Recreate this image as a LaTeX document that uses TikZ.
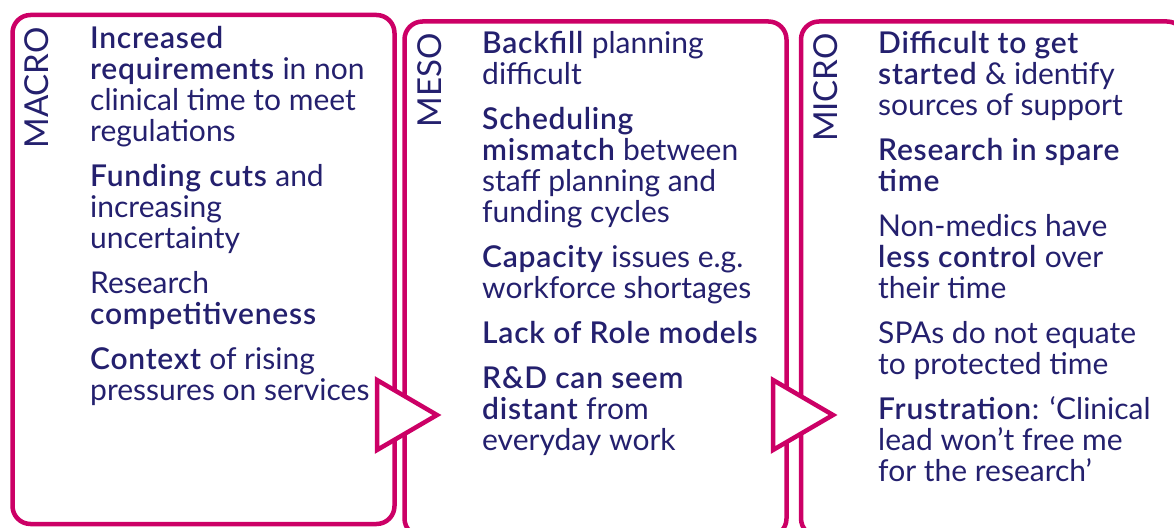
\documentclass[tikz,border=0pt]{standalone}
\usepackage{fontspec}
\setmainfont{Lato}[BoldFont={Lato Semibold}, BoldFeatures={LetterSpace=2.5}]
\usetikzlibrary{shapes,positioning,calc}
\definecolor{rim}{RGB}{204,0,102}
\definecolor{ink}{RGB}{36,32,110}
\tikzset{
  panel/.style   = {draw=rim, line width=4.5pt, rectangle, rounded corners=18pt,
                    inner sep=0pt, outer sep=0pt, anchor=north west},
  level/.style   = {rotate=90, anchor=north east, inner sep=0pt, text=ink,
                    font=\fontsize{33}{36}\selectfont},
  items/.style   = {anchor=north west, inner sep=0pt, align=left, text=ink,
                    font=\fontsize{30}{31}\selectfont},
  pointer/.style = {draw=rim, fill=white, line width=4.5pt, isosceles triangle,
                    isosceles triangle stretches, minimum width=70pt, minimum height=60pt,
                    inner sep=0pt, outer sep=0pt, anchor=apex}
}

\begin{document}
\begin{tikzpicture}[x=1pt, y=-1pt]
    \useasboundingbox (0,0) rectangle (1174,527);
    \clip (0,0) rectangle (1174,527);

    \node[panel, minimum width=382pt, minimum height=509pt] (macro box) at (12.5,15) {};
    \node[panel, minimum width=382pt, minimum height=515pt] (meso box)  at (404.5,21.5) {};
    \node[panel, minimum width=384pt, minimum height=515pt] (micro box) at (801,21.5) {};

    \node[level] (macro label) at (24,27) {MACRO};
    \node[level] (meso label)  at (417,33) {MESO};
    \node[level] (micro label) at (813,33) {MICRO};

    \node[items] (macro text) at (90,26.5) {\textbf{Increased}\\
      \textbf{requirements} in non\\clinical time to meet\\regulations\\[14pt]
      \textbf{Funding cuts} and\\increasing\\uncertainty\\[14pt]
      Research\\\textbf{competitiveness}\\[14pt]
      \textbf{Context} of rising\\pressures on services};

    \node[items] (meso text) at (482,31.5) {\textbf{Backfill} planning\\difficult\\[14pt]
      \textbf{Scheduling}\\\textbf{mismatch} between\\staff planning and\\funding cycles\\[14pt]
      \textbf{Capacity} issues e.g.\\workforce shortages\\[14pt]
      \textbf{Lack of Role models}\\[14pt]
      \textbf{R\&D can seem}\\\textbf{distant} from\\everyday work};

    \node[items] (micro text) at (878,31.5) {\textbf{Difficult to get}\\
      \textbf{started} \& identify\\sources of support\\[14pt]
      \textbf{Research in spare}\\\textbf{time}\\[14pt]
      Non-medics have\\\textbf{less control} over\\their time\\[14pt]
      SPAs do not equate\\to protected time\\[14pt]
      \textbf{Frustration}: ‘Clinical\\lead won’t free me\\for the research’};

    % arrows between the levels
    \node[pointer] (macro to meso) at (437,415) {};
    \node[pointer] (meso to micro) at (833,415) {};
\end{tikzpicture}
\end{document}
